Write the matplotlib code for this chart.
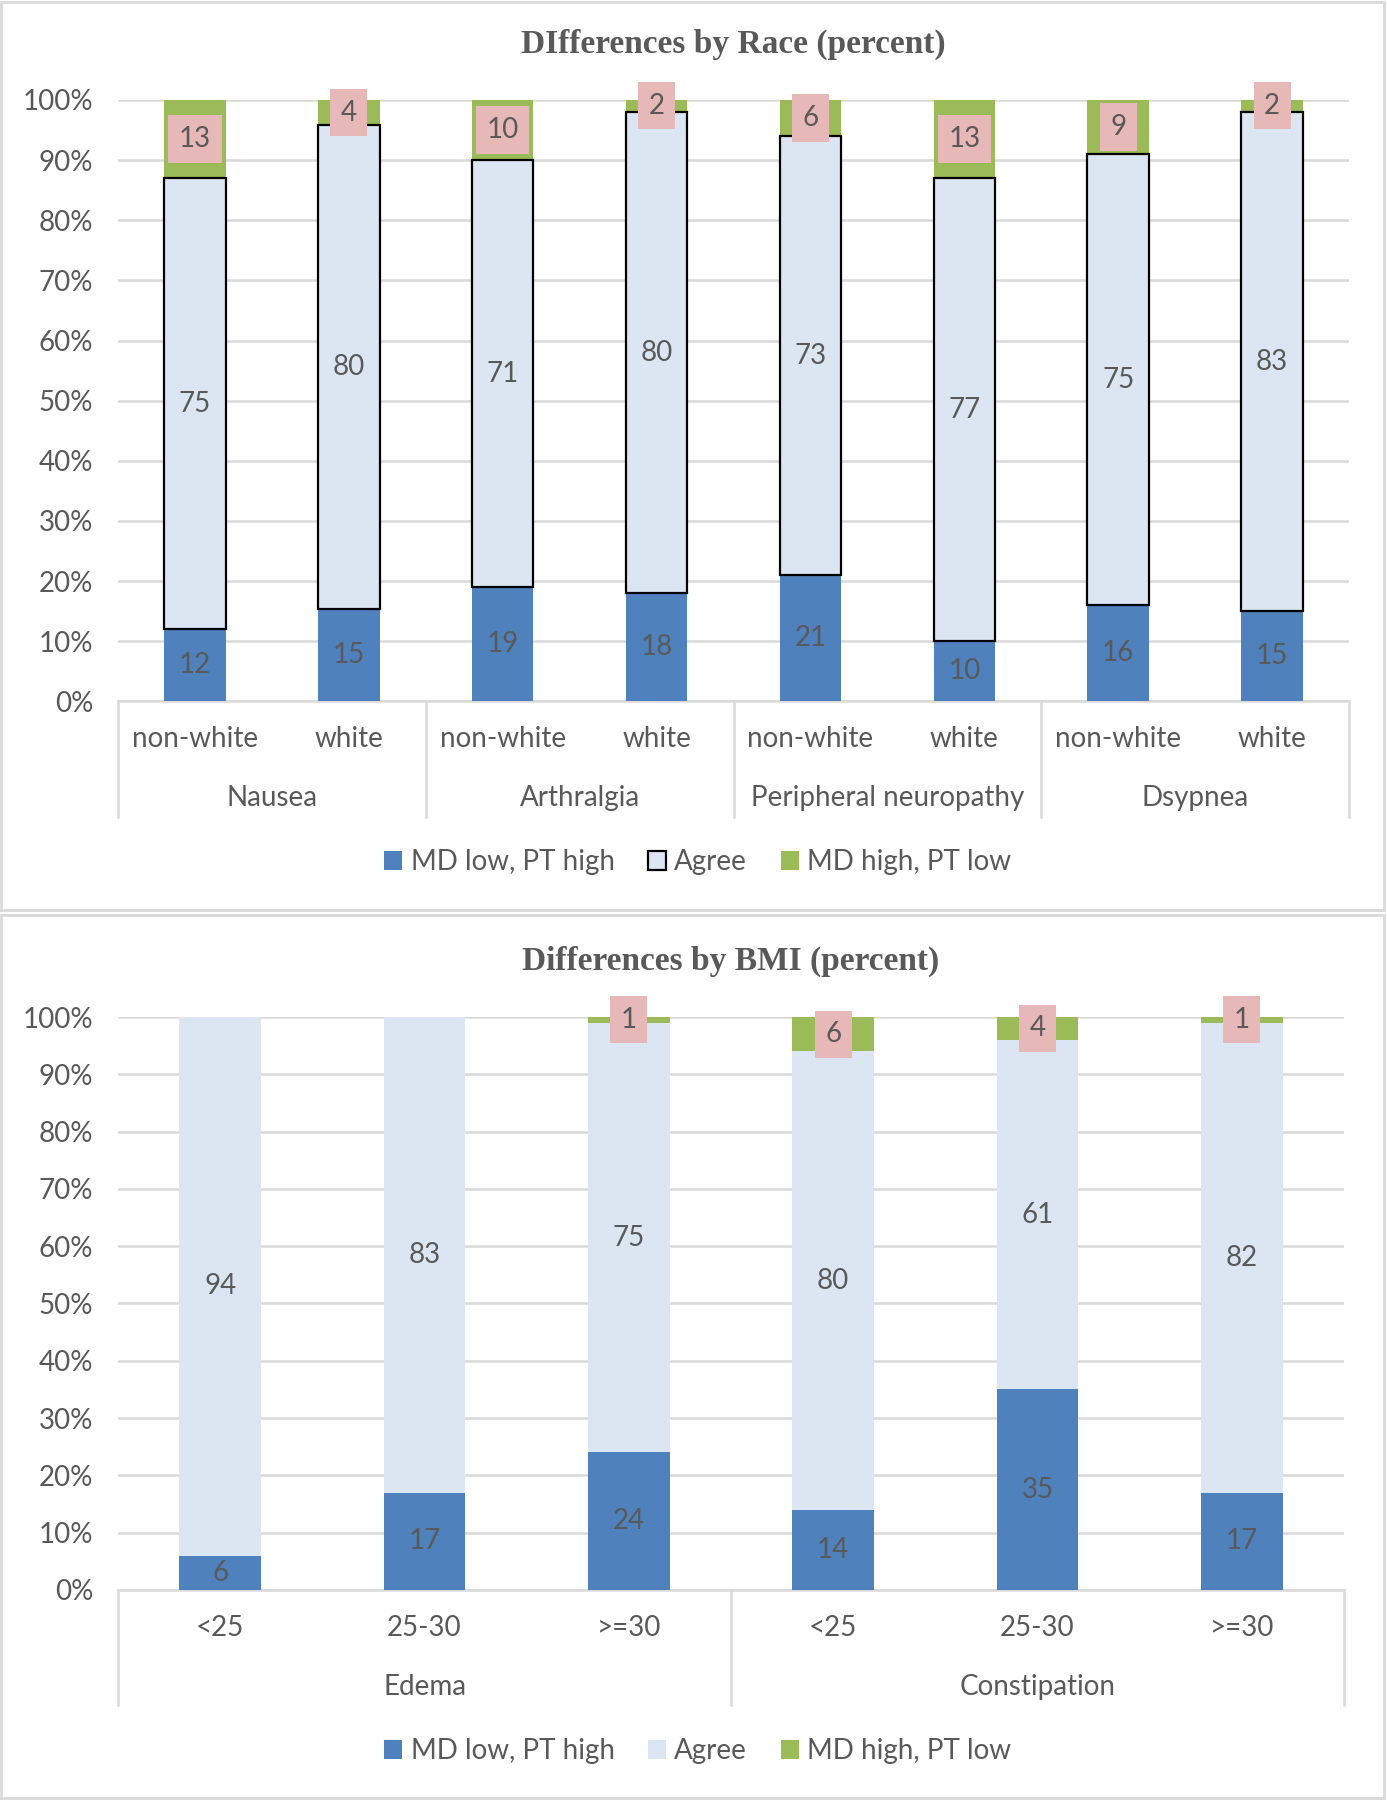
import numpy as np
import matplotlib
matplotlib.use('Agg')
import matplotlib.pyplot as plt
from matplotlib.patches import Patch, Rectangle
from matplotlib.transforms import blended_transform_factory

plt.rcParams['font.family'] = ['Lato', 'DejaVu Sans']

# data - race panel (bar heights, labels shown rounded)
race_groups = ["Nausea", "Arthralgia", "Peripheral neuropathy", "Dsypnea"]
race_sub = ["non-white", "white"]
race_md_low = [12, 15.4, 19, 18, 21, 10, 16, 15]
race_agree = [75, 80.4, 71, 80, 73, 77, 75, 83]
race_md_high = [13, 4.2, 10, 2, 6, 13, 9, 2]

# data - BMI panel
bmi_groups = ["Edema", "Constipation"]
bmi_sub = ["<25", "25-30", ">=30"]
bmi_md_low = [6, 17, 24, 14, 35, 17]
bmi_agree = [94, 83, 75, 80, 61, 82]
bmi_md_high = [0, 0, 1, 6, 4, 1]

series_names = ["MD low, PT high", "Agree", "MD high, PT low"]

BLUE = '#4F81BD'
LIGHT = '#DCE6F2'
GREEN = '#9BBB59'
PINK = '#E6B8B7'
TXT = '#595959'
GRID = '#D9D9D9'
FS = 20


def draw_panel(ax, groups, sub, low, agree, high, title, outline, sub_y, grp_y, sep_y):
    n = len(low)
    x = np.arange(n)
    low = np.array(low, dtype=float)
    agree = np.array(agree, dtype=float)
    high = np.array(high, dtype=float)
    ec = 'black' if outline else 'none'
    lw = 1.6 if outline else 0
    ax.bar(x, low, 0.4, color=BLUE, zorder=3)
    ax.bar(x, agree, 0.4, bottom=low, color=LIGHT, edgecolor=ec, linewidth=lw, zorder=3)
    ax.bar(x, high, 0.4, bottom=low + agree, color=GREEN, zorder=2)

    for i in range(n):
        if low[i] > 0:
            ax.text(x[i], low[i] / 2, f"{low[i]:.0f}", ha='center', va='center',
                    fontsize=FS, color=TXT, zorder=5)
        if agree[i] > 0:
            ax.text(x[i], low[i] + agree[i] / 2, f"{agree[i]:.0f}", ha='center', va='center',
                    fontsize=FS, color=TXT, zorder=5)
        if high[i] > 0:
            ax.text(x[i], low[i] + agree[i] + high[i] / 2, f"{high[i]:.0f}", ha='center',
                    va='center', fontsize=FS, color=TXT, zorder=5,
                    bbox=dict(boxstyle='square,pad=0.38', fc=PINK, ec='none'))

    ax.set_xlim(-0.5, n - 0.5)
    ax.set_ylim(0, 100)
    ax.set_yticks(np.arange(0, 101, 10))
    ax.set_yticklabels([f"{v}%" for v in range(0, 101, 10)], fontsize=FS, color=TXT)
    ax.tick_params(axis='y', length=0, pad=18)
    ax.tick_params(axis='x', length=0)
    ax.set_xticks([])
    ax.grid(axis='y', color=GRID, linewidth=1.8, zorder=0)
    ax.set_axisbelow(True)
    for s in ['top', 'right', 'left']:
        ax.spines[s].set_visible(False)
    ax.spines['bottom'].set_color(GRID)
    ax.spines['bottom'].set_linewidth(1.8)

    tr = blended_transform_factory(ax.transData, ax.transAxes)
    k = len(sub)
    for i in range(n):
        ax.text(x[i], sub_y, sub[i % k], transform=tr, ha='center', va='center',
                fontsize=FS, color=TXT)
    for g, name in enumerate(groups):
        ax.text(g * k + (k - 1) / 2, grp_y, name, transform=tr, ha='center', va='center',
                fontsize=FS, color=TXT)
    for g in range(len(groups) + 1):
        ax.plot([g * k - 0.5, g * k - 0.5], [0, sep_y], transform=tr, color=GRID,
                linewidth=1.8, clip_on=False)

    ax.set_title(title, fontsize=24, fontweight='bold', color=TXT,
                 family='Liberation Serif', pad=34)


fig = plt.figure(figsize=(13.87, 18), dpi=100)

# panel frames
fig.patches.append(Rectangle((0.001, 0.4945), 0.997, 0.5045, transform=fig.transFigure,
                             fill=False, edgecolor=GRID, linewidth=2))
fig.patches.append(Rectangle((0.001, 0.001), 0.997, 0.4905, transform=fig.transFigure,
                             fill=False, edgecolor=GRID, linewidth=2))

ax1 = fig.add_axes([0.0851, 0.6103, 0.8875, 0.3342])
draw_panel(ax1, race_groups, race_sub, race_md_low, race_agree, race_md_high,
           "DIfferences by Race (percent)", True, -0.063, -0.161, -0.192)

ax2 = fig.add_axes([0.0851, 0.1167, 0.8839, 0.3183])
draw_panel(ax2, bmi_groups, bmi_sub, bmi_md_low, bmi_agree, bmi_md_high,
           "Differences by BMI (percent)", False, -0.067, -0.170, -0.2007)

h1 = [Patch(fc=BLUE, ec='none'), Patch(fc=LIGHT, ec='black', lw=1.6), Patch(fc=GREEN, ec='none')]
h2 = [Patch(fc=BLUE, ec='none'), Patch(fc=LIGHT, ec='none'), Patch(fc=GREEN, ec='none')]
for h, y in [(h1, 0.521), (h2, 0.0272)]:
    leg = fig.legend(h, series_names, loc='center', bbox_to_anchor=(0.503, y), ncol=3,
                     frameon=False, fontsize=FS, handlelength=0.65, handleheight=0.65,
                     handletextpad=0.3, columnspacing=1.2)
    for t in leg.get_texts():
        t.set_color(TXT)

fig.savefig('out.png', dpi=100)
